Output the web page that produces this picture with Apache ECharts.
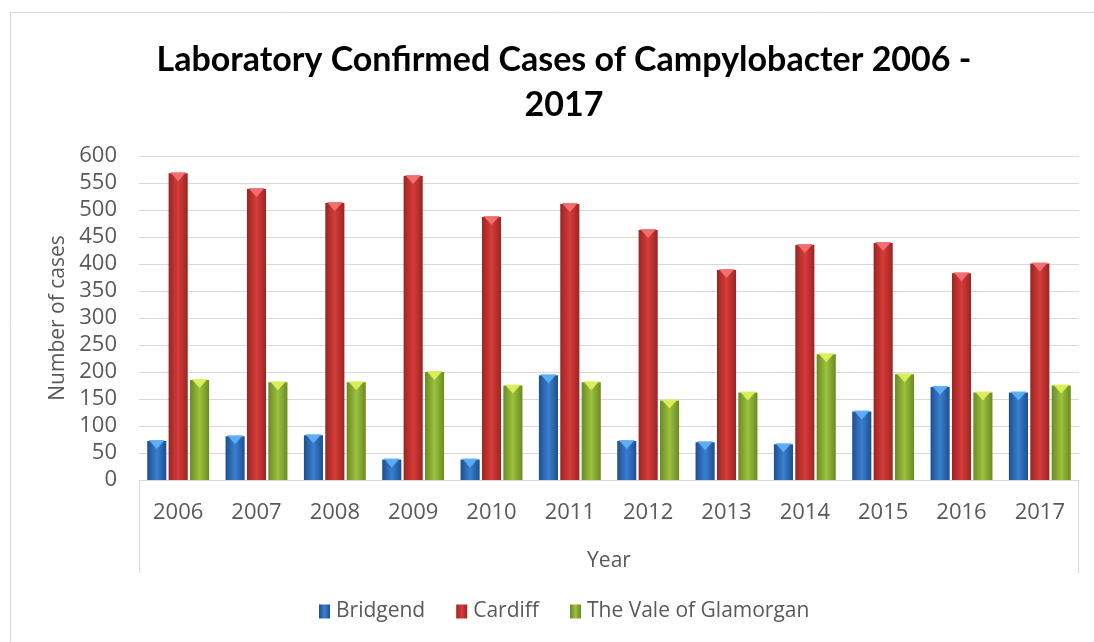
<!DOCTYPE html>
<html>
<head>
<meta charset="utf-8">
<script src="https://cdn.jsdelivr.net/npm/echarts@6/dist/echarts.min.js"></script>
<style>
  html, body { margin: 0; padding: 0; background: #ffffff; }
  #chart { width: 1094px; height: 642px; }
</style>
</head>
<body>
<div id="chart"></div>
<script>
const categories = ['2006', '2007', '2008', '2009', '2010', '2011', '2012', '2013', '2014', '2015', '2016', '2017'];
const bridgend = [72, 81, 83, 38, 38, 194, 72, 70, 66, 127, 172, 162];
const cardiff = [568, 539, 513, 563, 487, 511, 463, 389, 435, 439, 383, 401];
const vale = [185, 181, 181, 200, 175, 181, 147, 162, 233, 196, 162, 175];
const seriesNames = ['Bridgend', 'Cardiff', 'The Vale of Glamorgan'];
const yMin = 0, yMax = 600, yStep = 50;

const labelFont = '"Open Sans", "Noto Sans", sans-serif';
const textColor = '#595959';

function grad(edge, mid) {
  return new echarts.graphic.LinearGradient(0, 0, 1, 0, [
    { offset: 0, color: edge },
    { offset: 0.5, color: mid },
    { offset: 1, color: edge }
  ]);
}
const barColors = [
  grad('#1d4f8f', '#3a7fd0'),
  grad('#9a2523', '#d63c39'),
  grad('#6a8a24', '#9cc23e')
];
const tipColors = ['#5fb0f5', '#f27272', '#dcf05c'];
const datasets = [bridgend, cardiff, vale];

const chart = echarts.init(document.getElementById('chart'), null, { renderer: 'canvas' });

const series = [];
datasets.forEach((d, i) => {
  series.push({
    name: seriesNames[i],
    type: 'bar',
    data: d,
    barGap: '12%',
    barCategoryGap: '21%',
    itemStyle: {
      color: barColors[i],
      shadowBlur: 3,
      shadowColor: 'rgba(0,0,0,0.35)',
      shadowOffsetX: 1,
      shadowOffsetY: 1
    },
    z: 2
  });
});
datasets.forEach((d, i) => {
  series.push({
    name: seriesNames[i] + ' tip',
    type: 'pictorialBar',
    data: d,
    barGap: '12%',
    barCategoryGap: '21%',
    symbol: 'triangle',
    symbolRotate: 180,
    symbolPosition: 'end',
    symbolSize: ['84%', 9],
    symbolOffset: [0, -1],
    itemStyle: { color: tipColors[i], opacity: 0.95 },
    silent: true,
    z: 3
  });
});

chart.setOption({
  animation: false,
  backgroundColor: '#ffffff',
  title: {
    text: 'Laboratory Confirmed Cases of Campylobacter 2006 -\n2017',
    left: 559,
    top: 33,
    textAlign: 'center',
    textStyle: {
      fontFamily: 'Lato, "Open Sans", sans-serif',
      fontWeight: 'bold',
      fontSize: 34,
      lineHeight: 45,
      color: '#000000'
    }
  },
  legend: {
    data: seriesNames,
    bottom: 15,
    left: 314,
    icon: 'rect',
    itemWidth: 11,
    itemHeight: 14,
    itemGap: 31,
    textStyle: { fontFamily: labelFont, fontSize: 21, color: textColor, padding: [0, 0, 0, 1] }
  },
  grid: { left: 139, right: 15, top: 156, bottom: 162 },
  xAxis: {
    type: 'category',
    data: categories,
    name: 'Year',
    nameLocation: 'middle',
    nameGap: 71,
    nameTextStyle: { fontFamily: labelFont, fontSize: 21, color: textColor },
    axisLine: { show: true, lineStyle: { color: '#d9d9d9', width: 1 } },
    axisTick: { show: false },
    axisLabel: { fontFamily: labelFont, fontSize: 22, color: textColor, margin: 22 }
  },
  yAxis: {
    type: 'value',
    min: yMin,
    max: yMax,
    interval: yStep,
    name: 'Number of cases',
    nameLocation: 'middle',
    nameRotate: 90,
    nameGap: 69,
    nameTextStyle: { fontFamily: labelFont, fontSize: 21, color: textColor },
    axisLine: { show: false },
    axisTick: { show: false },
    splitLine: { lineStyle: { color: '#d9d9d9', width: 1 } },
    axisLabel: { fontFamily: labelFont, fontSize: 22, color: textColor, margin: 22 }
  },
  series: series
});

const rect = chart.getModel().getComponent('grid', 0).coordinateSystem.getRect();
const x0 = Math.round(rect.x) + 0.5;
const x1 = Math.round(rect.x + rect.width) - 0.5;
const yb = rect.y + rect.height;
chart.setOption({
  graphic: [
    { type: 'rect', shape: { x: 10.5, y: 12.5, width: 1200, height: 700 },
      style: { fill: 'none', stroke: '#d9d9d9', lineWidth: 1 }, silent: true, z: -1 },
    { type: 'line', shape: { x1: x0, y1: yb, x2: x0, y2: yb + 93 },
      style: { stroke: '#d9d9d9', lineWidth: 1 }, silent: true },
    { type: 'line', shape: { x1: x1, y1: yb, x2: x1, y2: yb + 93 },
      style: { stroke: '#d9d9d9', lineWidth: 1 }, silent: true }
  ]
});
</script>
</body>
</html>
